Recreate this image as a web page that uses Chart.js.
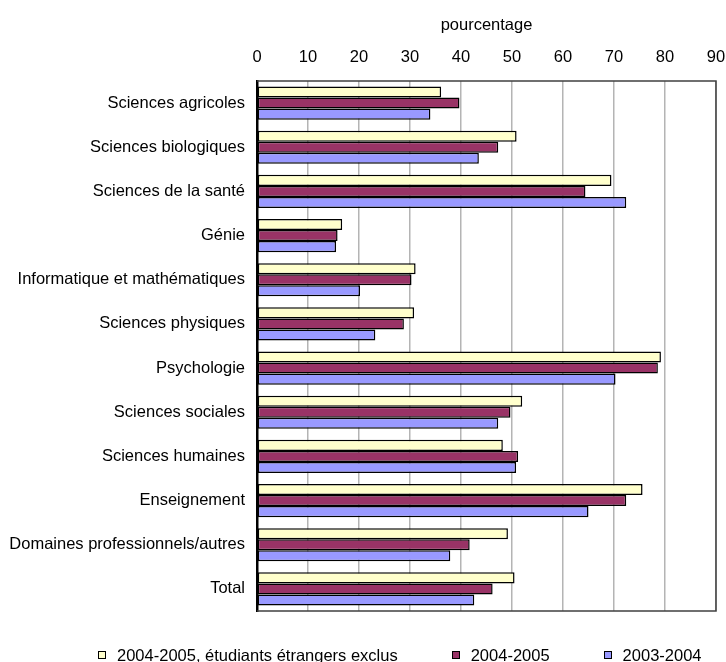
<!DOCTYPE html>
<html lang="fr">
<head>
<meta charset="utf-8">
<title>pourcentage par domaine</title>
<script src="https://cdn.jsdelivr.net/npm/chart.js@4"></script>
<style>
  html, body { margin: 0; padding: 0; background: #fff; }
  #wrap { position: relative; width: 726px; height: 662px; overflow: hidden; }
  #legend {
    position: absolute; left: 98px; top: 647px;
    display: flex; gap: 54px;
    font: 16.5px "Liberation Sans", Arial, sans-serif; line-height: 16px; color: #000;
    white-space: nowrap;
  }
  .lg-item { display: flex; align-items: center; }
  .lg-box { width: 6px; height: 6px; border: 1px solid #000; margin-right: 11px; }
</style>
</head>
<body>
<div id="wrap">
  <canvas id="chart"></canvas>
  <div id="legend"></div>
</div>
<script>
// ── data ──
const categories = [
  'Sciences agricoles', 'Sciences biologiques', 'Sciences de la santé', 'Génie',
  'Informatique et mathématiques', 'Sciences physiques', 'Psychologie',
  'Sciences sociales', 'Sciences humaines', 'Enseignement',
  'Domaines professionnels/autres', 'Total'
];
const seriesNames = ['2004-2005, étudiants étrangers exclus', '2004-2005', '2003-2004'];
const excl0405 = [36.1, 50.9, 69.5, 16.7, 31.1, 30.8, 79.2, 52.0, 48.2, 75.6, 49.2, 50.5];
const y0405    = [39.7, 47.3, 64.4, 15.8, 30.3, 28.8, 78.6, 49.7, 51.2, 72.4, 41.7, 46.2];
const y0304    = [34.0, 43.5, 72.4, 15.5, 20.2, 23.2, 70.3, 47.3, 50.8, 65.0, 37.9, 42.6];
const xMin = 0, xMax = 90, xStep = 10;
const axisTitle = 'pourcentage';

const colors = ['#ffffcc', '#993366', '#9999ff'];
const FONT = '"Liberation Sans", Arial, sans-serif';

// frame on top / right / bottom of the plot (left is the black y axis)
const plotFrame = {
  id: 'plotFrame',
  afterDraw(chart) {
    const { ctx, chartArea: a } = chart;
    ctx.save();
    ctx.strokeStyle = '#404040';
    ctx.lineWidth = 1.5;
    ctx.beginPath();
    ctx.moveTo(a.left, a.top);
    ctx.lineTo(a.right, a.top);
    ctx.lineTo(a.right, a.bottom);
    ctx.lineTo(a.left, a.bottom);
    ctx.stroke();
    ctx.restore();
  }
};

const chart = new Chart(document.getElementById('chart'), {
  type: 'bar',
  data: {
    labels: categories,
    datasets: [excl0405, y0405, y0304].map((d, i) => ({
      label: seriesNames[i],
      data: d,
      backgroundColor: colors[i],
      borderColor: '#000',
      borderWidth: 1.5,
      borderSkipped: false,
      categoryPercentage: 0.75,
      barPercentage: 1.0,
    }))
  },
  options: {
    indexAxis: 'y',
    responsive: true, maintainAspectRatio: false,
    animation: false,
    layout: { autoPadding: false, padding: { left: 0, right: 10, top: 0, bottom: 51 } },
    plugins: {
      legend: { display: false },
      tooltip: { enabled: false }
    },
    scales: {
      x: {
        position: 'top',
        min: xMin, max: xMax,
        ticks: { stepSize: xStep, color: '#000', padding: 14, font: { family: FONT, size: 16.5 } },
        grid: { color: '#b4b4b4', lineWidth: 1.5, drawTicks: false },
        border: { display: false },
        title: { display: true, text: axisTitle, color: '#000', font: { family: FONT, size: 16.5 }, padding: { top: 16, bottom: 0 } },
        afterFit: s => { s.height = 81; s.paddingLeft = 0; s.paddingRight = 0; }
      },
      y: {
        ticks: { color: '#000', padding: 12, font: { family: FONT, size: 16.5 } },
        grid: { display: false, drawTicks: false },
        border: { color: '#000', width: 2.5 },
        afterFit: s => { s.width = 257; }
      }
    }
  },
  plugins: [plotFrame]
});

// ── legend ──
const legendEl = document.getElementById('legend');
chart.data.datasets.forEach(ds => {
  const item = document.createElement('div');
  item.className = 'lg-item';
  item.innerHTML = `<span class="lg-box" style="background:${ds.backgroundColor}"></span><span>${ds.label}</span>`;
  legendEl.appendChild(item);
});
</script>
</body>
</html>
